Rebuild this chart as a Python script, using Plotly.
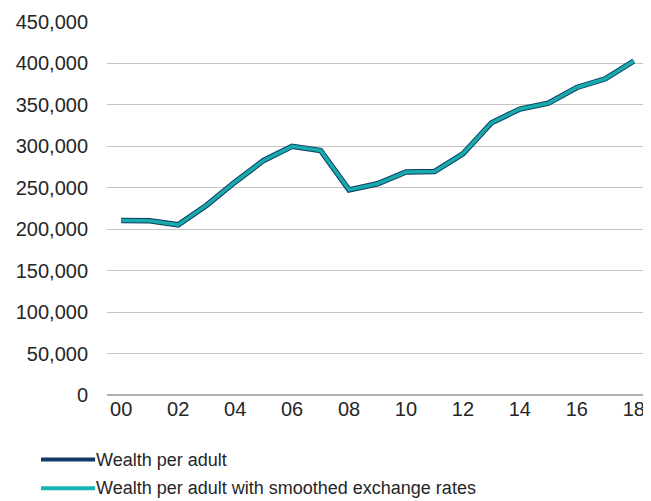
import plotly.graph_objects as go

# years 2000-2018, labelled as two digits
years = ["00", "01", "02", "03", "04", "05", "06", "07", "08", "09",
         "10", "11", "12", "13", "14", "15", "16", "17", "18"]

wealth_per_adult = [210400, 210300, 205300, 229000, 257000, 283000, 300000, 295000, 247500, 254800,
                    269000, 269500, 291000, 328300, 345000, 352000, 371000, 381500, 403000]

wealth_smoothed = [210400, 210300, 205300, 229000, 257000, 283000, 300000, 295000, 247500, 254800,
                   269000, 269500, 291000, 328300, 345000, 352000, 371000, 381500, 403000]

series_names = ["Wealth per adult", "Wealth per adult with smoothed exchange rates"]
line_colours = ["#0E3A68", "#17ABAA"]
legend_colours = ["#0E3A68", "#17B5B3"]

yTicks = list(range(0, 450001, 50000))

fig = go.Figure()

fig.add_trace(go.Scatter(
    x=years, y=wealth_per_adult, mode="lines", name=series_names[0],
    line=dict(color=line_colours[0], width=5.5), showlegend=False,
))
fig.add_trace(go.Scatter(
    x=years, y=wealth_smoothed, mode="lines", name=series_names[1],
    line=dict(color=line_colours[1], width=3.5), showlegend=False,
))

# the page body has an 8px margin, so the figure is a bit smaller than the window
fig.update_layout(
    width=643,
    height=493,
    margin=dict(l=99, r=3, t=11, b=106),
    paper_bgcolor="white",
    plot_bgcolor="white",
    font=dict(family="Liberation Sans, Arial, sans-serif", size=20, color="#262626"),
)

fig.update_xaxes(
    type="category",
    tickvals=years[::2],
    ticktext=years[::2],
    range=[-0.5, len(years) - 0.5],
    showgrid=False,
    showline=False,
    ticks="",
    tickfont=dict(size=20),
)

fig.update_yaxes(
    range=[0, 450000],
    tickvals=yTicks,
    tickformat=",d",
    showgrid=True,
    gridcolor="#C4C4C4",
    gridwidth=1,
    zeroline=True,
    zerolinecolor="#B0B0B0",
    zerolinewidth=1.5,
    showline=False,
    ticks="",
    ticklabelstandoff=18,
    tickfont=dict(size=20),
)

# custom legend below the plot (long line swatches like the original)
legendY = [-0.173, -0.25]
for name, colour, ly in zip(series_names, legend_colours, legendY):
    fig.add_shape(
        type="line", xref="paper", yref="paper",
        x0=-0.122, x1=-0.022, y0=ly, y1=ly,
        line=dict(color=colour, width=4),
    )
    fig.add_annotation(
        xref="paper", yref="paper", x=-0.024, y=ly,
        text=name, showarrow=False, xanchor="left", yanchor="middle",
        font=dict(size=18, color="#262626"),
    )

fig.write_html("out.html")
